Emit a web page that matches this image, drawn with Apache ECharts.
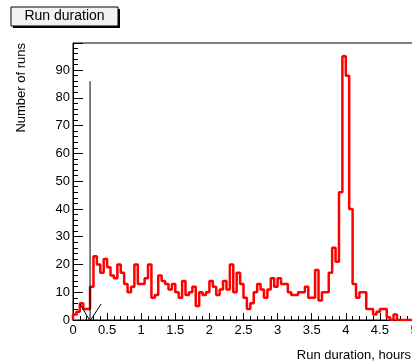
<!DOCTYPE html>
<html>
<head>
<meta charset="utf-8">
<script src="https://cdn.jsdelivr.net/npm/echarts@6/dist/echarts.min.js"></script>
<style>
  html, body { margin: 0; padding: 0; background: #fff; }
  #main { width: 412px; height: 363px; }
</style>
</head>
<body>
<div id="main"></div>
<script>
// histogram: 100 bins of 0.05 hours from 0 to 5
var binWidth = 0.05;
var counts = [
   2,  3,  6,  4,  4, 12, 23, 20, 17, 22,
  19, 16, 15, 20, 17, 13, 10, 12, 20, 13,
  13, 15, 20,  8,  9, 16, 14, 13, 11, 13,
  10,  8, 14,  9, 10, 12,  5, 10,  9, 10,
  14, 12,  9, 11, 14, 11, 20, 10, 17, 13,
   8,  4,  6, 10, 13, 11,  8, 11, 15, 12,
  15, 13, 13, 10,  9,  9, 10, 10, 12,  8,
   8, 18,  7, 10, 10, 17, 26, 21, 46, 95,
  88, 40, 13,  8, 10, 10,  4,  4,  2,  3,
   4,  4,  1,  0,  2,  0,  0,  0,  0,  0
];
// cut marker (arrow) drawn at 0.25 hours
var cutX = 0.25;
var cutTop = 86;

var xMin = 0, xMax = 5, xStep = 0.5;
var yMin = 0, yMax = 99.75, yStep = 10;

var histPoints = [[0, 0]];
counts.forEach(function (c, i) {
    histPoints.push([i * binWidth, c]);
});
histPoints.push([counts.length * binWidth, counts[counts.length - 1]]);
histPoints.push([counts.length * binWidth, 0]);

var myChart = echarts.init(document.getElementById('main'));
var font = '"Liberation Sans", Arial, Helvetica, sans-serif';

var option = {
    animation: false,
    grid: {
        left: 73, top: 43, width: 341, height: 277,
        outerBoundsMode: 'none', containLabel: false,
        show: true, borderColor: '#000', borderWidth: 1,
        backgroundColor: 'transparent'
    },
    xAxis: {
        type: 'value', min: xMin, max: xMax, interval: xStep,
        axisLine: { show: true, onZero: false, lineStyle: { color: '#000', width: 1 } },
        axisTick: { show: true, inside: true, length: 7, lineStyle: { color: '#000' } },
        minorTick: { show: true, splitNumber: 5, length: 4, lineStyle: { color: '#000' } },
        splitLine: { show: false },
        axisLabel: { color: '#000', fontSize: 13, fontFamily: font, margin: 4 }
    },
    yAxis: {
        type: 'value', min: yMin, max: yMax, interval: yStep,
        axisLine: { show: true, onZero: false, lineStyle: { color: '#000', width: 1 } },
        axisTick: { show: true, inside: true, length: 10, lineStyle: { color: '#000' } },
        minorTick: { show: true, splitNumber: 5, length: 5, lineStyle: { color: '#000' } },
        splitLine: { show: false },
        axisLabel: { color: '#000', fontSize: 13, fontFamily: font, margin: 3, showMaxLabel: false }
    },
    graphic: [
        { type: 'rect', shape: { x: 13, y: 9, width: 107, height: 19 }, style: { fill: '#000' }, z: 10 },
        { type: 'rect', shape: { x: 11, y: 7, width: 107, height: 19 },
          style: { fill: '#f2f2f2', stroke: '#000', lineWidth: 1 }, z: 11 },
        { type: 'text', x: 64.5, y: 16.5, z: 12,
          style: { text: 'Run duration', font: '14px ' + font, fill: '#000',
                   textAlign: 'center', textVerticalAlign: 'middle' } },
        { type: 'text', x: 411, y: 355, z: 12,
          style: { text: 'Run duration, hours', font: '13px ' + font, fill: '#000',
                   textAlign: 'right', textVerticalAlign: 'middle' } },
        { type: 'text', x: 21, y: 43, rotation: Math.PI / 2, z: 12,
          style: { text: 'Number of runs', font: '13px ' + font, fill: '#000',
                   textAlign: 'right', textVerticalAlign: 'middle' } }
    ],
    series: [
        {
            type: 'line',
            data: histPoints,
            step: 'end',
            symbol: 'none',
            lineStyle: { color: '#ff0000', width: 2.5 },
            z: 3
        },
        {
            type: 'custom',
            data: [[cutX, cutTop, 0]],
            z: 4,
            renderItem: function (params, api) {
                var top = api.coord([api.value(0), api.value(1)]);
                var bot = api.coord([api.value(0), api.value(2)]);
                var tip = [bot[0], bot[1] + 1];
                return {
                    type: 'group',
                    children: [
                        { type: 'line', shape: { x1: top[0], y1: top[1], x2: tip[0], y2: tip[1] },
                          style: { stroke: '#000', lineWidth: 1 } },
                        { type: 'polyline', shape: { points: [[tip[0] - 10, tip[1] - 17], tip, [tip[0] + 11, tip[1] - 17]] },
                          style: { stroke: '#000', lineWidth: 1, fill: null } }
                    ]
                };
            }
        }
    ]
};
myChart.setOption(option);
</script>
</body>
</html>
